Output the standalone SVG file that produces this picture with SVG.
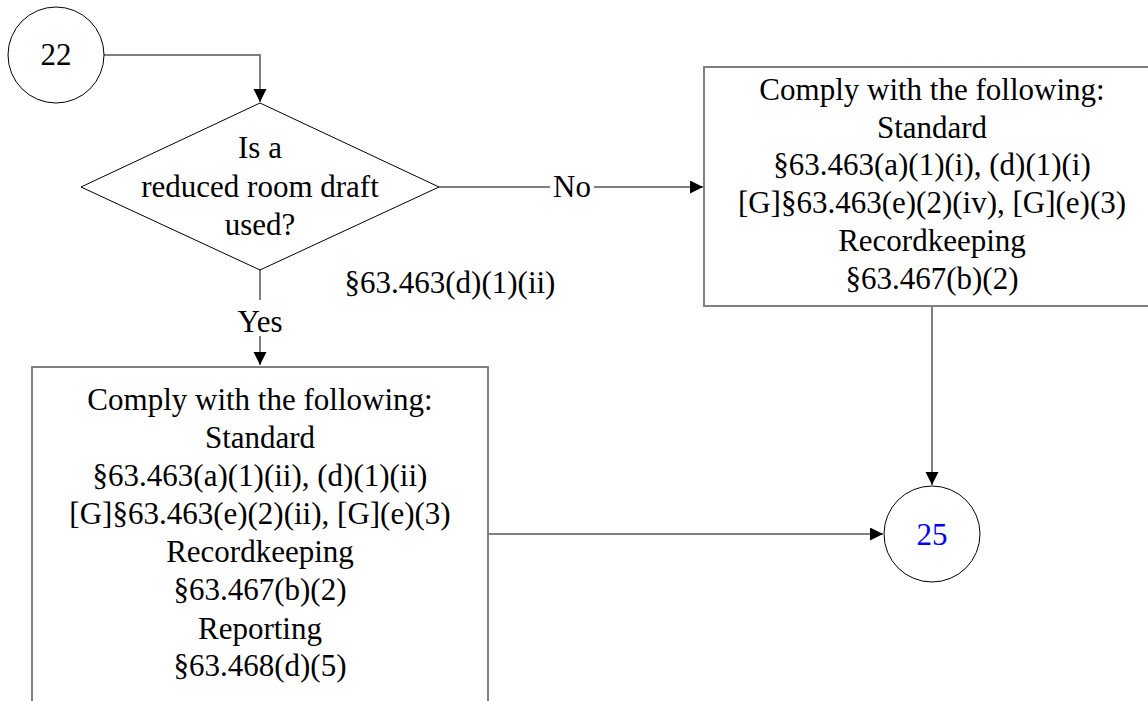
<svg xmlns="http://www.w3.org/2000/svg" width="1148" height="701" viewBox="0 0 1148 701">
<style>
text{font-family:"Liberation Serif","Times New Roman",serif;font-size:31px;fill:#000;text-anchor:middle}
.shape{fill:#fff;stroke:#000;stroke-width:1}
.box{fill:#fff;stroke:#808080;stroke-width:2}
.conn{fill:none;stroke:#808080;stroke-width:2}
.lbl{fill:#fff;stroke:none}
</style>
<defs>
<marker id="arr" markerUnits="userSpaceOnUse" markerWidth="14" markerHeight="14" refX="13" refY="6.5" orient="auto">
<path d="M0,0 L13,6.5 L0,13 z" fill="#000"/>
</marker>
</defs>
<rect width="1148" height="701" fill="#fff"/>
<g id="connectors">
<path class="conn" d="M104,55 H260 V102" marker-end="url(#arr)"/>
<path class="conn" d="M439,187 H703" marker-end="url(#arr)"/>
<path class="conn" d="M260,270 V365" marker-end="url(#arr)"/>
<path class="conn" d="M932,306 V485" marker-end="url(#arr)"/>
<path class="conn" d="M488,534 H883" marker-end="url(#arr)"/>
<rect class="lbl" x="550" y="172" width="44" height="30"/>
<text x="572" y="197">No</text>
<rect class="lbl" x="234" y="300" width="52" height="36"/>
<text x="260" y="332">Yes</text>
<text x="450" y="293">§63.463(d)(1)(ii)</text>
</g>
<g id="node22">
<circle class="shape" cx="56" cy="55" r="48"/>
<text x="56" y="65">22</text>
</g>
<g id="decision">
<polygon class="shape" points="260,103 439,187 260,270 81,187"/>
<text x="260" y="158">Is a</text>
<text x="260" y="197">reduced room draft</text>
<text x="260" y="235">used?</text>
</g>
<g id="boxNo">
<rect class="box" x="704" y="67" width="460" height="239"/>
<text x="932" y="100">Comply with the following:</text>
<text x="932" y="138">Standard</text>
<text x="932" y="175">§63.463(a)(1)(i), (d)(1)(i)</text>
<text x="932" y="213">[G]§63.463(e)(2)(iv), [G](e)(3)</text>
<text x="932" y="251">Recordkeeping</text>
<text x="932" y="289">§63.467(b)(2)</text>
</g>
<g id="boxYes">
<rect class="box" x="32" y="367" width="456" height="350"/>
<text x="260" y="410">Comply with the following:</text>
<text x="260" y="448">Standard</text>
<text x="260" y="486">§63.463(a)(1)(ii), (d)(1)(ii)</text>
<text x="260" y="524">[G]§63.463(e)(2)(ii), [G](e)(3)</text>
<text x="260" y="562">Recordkeeping</text>
<text x="260" y="600">§63.467(b)(2)</text>
<text x="260" y="639">Reporting</text>
<text x="260" y="676">§63.468(d)(5)</text>
</g>
<g id="node25">
<circle class="shape" cx="932" cy="534" r="48"/>
<text x="932" y="545" style="fill:#0000ff">25</text>
</g>
</svg>
